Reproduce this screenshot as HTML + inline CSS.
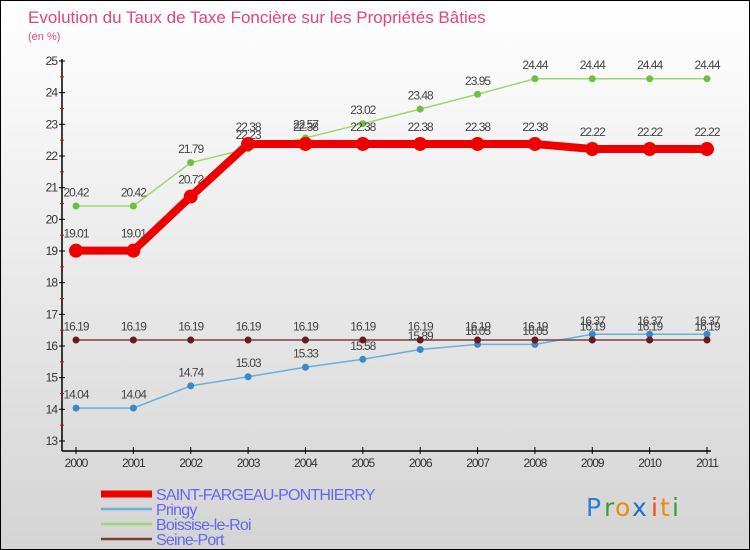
<!DOCTYPE html>
<html><head><meta charset="utf-8"><style>
body{margin:0}
#c{width:750px;height:550px;position:relative;overflow:hidden;font-family:"Liberation Sans",sans-serif;background:linear-gradient(#ffffff,#d4d4d4);box-sizing:border-box;border:1px solid #000}
</style></head><body>
<div id="c">
<svg id="s" width="750" height="550" style="position:absolute;left:0;top:0">
<text x="27" y="22" font-size="17" fill="#e0457a">Evolution du Taux de Taxe Foncière sur les Propriétés Bâties</text>
<text x="27" y="39" font-size="11" fill="#e0457a">(en %)</text>
<g id="axes"></g><g id="series"></g><g id="legend"></g>
<g font-size="25" font-family="DejaVu Sans, sans-serif">
<text x="585" y="515" fill="#2a7fd0">P</text><text x="603" y="515" fill="#3a9a3a">r</text><text x="614" y="515" fill="#f08a10">o</text><text x="631" y="515" fill="#1a70d0">x</text><text x="650" y="515" fill="#f05010">i</text><text x="659" y="515" fill="#f08a10">t</text><text x="671" y="515" fill="#3a9a3a">i</text>
</g>
</svg>
</div>
<script>
const years=[2000,2001,2002,2003,2004,2005,2006,2007,2008,2009,2010,2011];
const saint=[19.01,19.01,20.72,22.38,22.38,22.38,22.38,22.38,22.38,22.22,22.22,22.22];
const pringy=[14.04,14.04,14.74,15.03,15.33,15.58,15.89,16.05,16.05,16.37,16.37,16.37];
const boissise=[20.42,20.42,21.79,22.23,22.57,23.02,23.48,23.95,24.44,24.44,24.44,24.44];
const seine=[16.19,16.19,16.19,16.19,16.19,16.19,16.19,16.19,16.19,16.19,16.19,16.19];
const yTicks=[13,14,15,16,17,18,19,20,21,22,23,24,25];
const NS="http://www.w3.org/2000/svg";
const X=i=>75+i*(706-75)/11;
const Y=v=>60+(25-v)*(380/12);
function mk(t,a,p){const e=document.createElementNS(NS,t);for(const k in a)e.setAttribute(k,a[k]);p.appendChild(e);return e;}
const ax=document.getElementById('axes');
let l=mk('line',{x1:61,y1:58,x2:61,y2:450,stroke:'#000','stroke-width':1.5},ax);


l=mk('line',{x1:61,y1:450,x2:710,y2:450,stroke:'#000','stroke-width':1.5},ax);


yTicks.forEach(v=>{
 mk('line',{x1:58,y1:Y(v),x2:64,y2:Y(v),stroke:'#000'},ax);
 if(v<25)mk('line',{x1:59,y1:Y(v+0.5),x2:63,y2:Y(v+0.5),stroke:'#e00'},ax);
 const t=mk('text',{x:56,y:Y(v)+4,'text-anchor':'end','font-size':12,fill:'#333','letter-spacing':-1},ax);
 t.textContent=v;
 
 
});
years.forEach((y,i)=>{
 mk('line',{x1:X(i),y1:446,x2:X(i),y2:453,stroke:'#000'},ax);
 const t=mk('text',{x:X(i),y:466,'text-anchor':'middle','font-size':12,fill:'#333','letter-spacing':-1},ax);
 t.textContent=y;
 
 
});
const sg=document.getElementById('series');
const series=[
 {n:'pringy',d:pringy,c:'#6aaedc',w:1.5,r:3.5,f:'#3a88c8',lab:'Pringy'},
 {n:'boissise',d:boissise,c:'#9ad870',w:1.5,r:3.5,f:'#70c040',lab:'Boissise-le-Roi'},
 {n:'seine-port',d:seine,c:'#7a4040',w:1.5,r:3.5,f:'#6a1a1a',lab:'Seine-Port'},
 {n:'saint-fargeau',d:saint,c:'#ee0000',w:8,r:7,f:'#ee0000',lab:'SAINT-FARGEAU-PONTHIERRY'}
];
series.forEach(s=>{
 const g=mk('g',{},sg);
 
 
 const p=mk('polyline',{points:s.d.map((v,i)=>X(i)+','+Y(v)).join(' '),fill:'none',stroke:s.c,'stroke-width':s.w},g);
 
 
 s.d.forEach((v,i)=>{
  const c=mk('circle',{cx:X(i),cy:Y(v),r:s.r,fill:s.f},g);
  
  
  const t=mk('text',{x:X(i),y:Y(v)-(s.r+6),'text-anchor':'middle','font-size':12,fill:'#444','letter-spacing':-1},g);
  t.textContent=v.toFixed(2);
  
  
 });
});
const lg=document.getElementById('legend');
const order=[series[3],series[0],series[1],series[2]];
order.forEach((s,k)=>{
 const y=493+k*15;
 const g=mk('g',{},lg);
 
 
 mk('line',{x1:100,y1:y,x2:151,y2:y,stroke:s.c,'stroke-width':k==0?7:2.5},g);
 const t=mk('text',{x:155,y:y+6,'font-size':16,fill:'#6666ee','letter-spacing':-0.8},g);
 t.textContent=s.lab;
});
</script>
</body></html>
